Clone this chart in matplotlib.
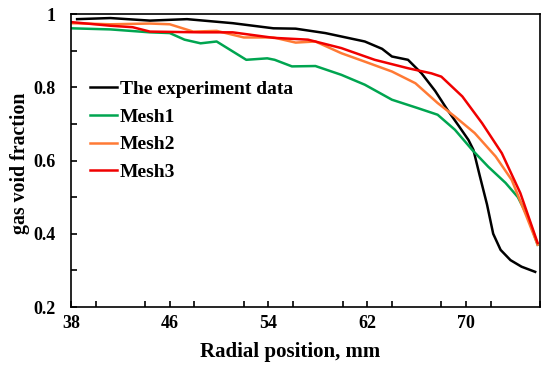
import matplotlib
matplotlib.use("Agg")
import matplotlib.pyplot as plt
from matplotlib.ticker import MultipleLocator

# Data
exp_x = [38.5, 41.2, 44.4, 47.4, 51.1, 54.4, 56.2, 58.6, 61.8, 63.2, 64.0, 65.3, 66.4, 67.5,
         68.5, 69.4, 70.2, 70.6, 71.1, 71.7, 72.2, 72.8, 73.6, 74.5, 75.6]
exp_y = [0.986, 0.989, 0.982, 0.986, 0.975, 0.961, 0.960, 0.948, 0.925, 0.905, 0.884, 0.875,
         0.838, 0.790, 0.738, 0.695, 0.656, 0.629, 0.560, 0.480, 0.400, 0.356, 0.328, 0.310, 0.296]

mesh1_x = [38.0, 41.2, 44.4, 46.0, 47.2, 48.5, 49.8, 51.0, 52.2, 53.9, 54.5, 55.9, 57.8, 59.9,
           61.8, 64.0, 66.1, 67.7, 69.1, 70.5, 71.8, 73.2, 74.2, 75.0, 75.8]
mesh1_y = [0.961, 0.958, 0.950, 0.948, 0.930, 0.920, 0.925, 0.900, 0.875, 0.879, 0.875, 0.857,
           0.858, 0.834, 0.807, 0.766, 0.743, 0.725, 0.684, 0.629, 0.583, 0.539, 0.500, 0.447, 0.370]

mesh2_x = [38.0, 41.2, 44.4, 46.0, 47.9, 49.8, 52.0, 54.4, 56.2, 57.8, 59.9, 61.8, 64.0, 65.9,
           67.7, 69.1, 70.7, 72.4, 73.7, 74.9, 75.8]
mesh2_y = [0.975, 0.972, 0.974, 0.972, 0.952, 0.954, 0.936, 0.936, 0.922, 0.925, 0.893, 0.870,
           0.843, 0.811, 0.757, 0.720, 0.675, 0.611, 0.547, 0.447, 0.370]

mesh3_x = [38.0, 41.2, 43.0, 44.4, 48.5, 51.1, 54.4, 57.2, 59.9, 62.6, 65.3, 67.2, 68.0, 69.7,
           71.3, 72.9, 74.4, 75.8]
mesh3_y = [0.978, 0.968, 0.964, 0.952, 0.950, 0.950, 0.935, 0.930, 0.907, 0.875, 0.852, 0.838,
           0.829, 0.775, 0.702, 0.620, 0.511, 0.375]

labels = ["The experiment data", "Mesh1", "Mesh2", "Mesh3"]
x_ticks = [38, 46, 54, 62, 70]
y_ticks = [0.2, 0.4, 0.6, 0.8, 1.0]
y_ticklabels = ["0.2", "0.4", "0.6", "0.8", "1"]

plt.rcParams['font.family'] = ['Liberation Serif', 'DejaVu Serif']
plt.rcParams['font.weight'] = 'bold'

fig = plt.figure(figsize=(5.5, 3.69), dpi=100)
ax = fig.add_axes([0.129, 0.168, 0.853, 0.794])

lw = 1.8
ax.plot(exp_x, exp_y, color='black', lw=lw, label=labels[0])
ax.plot(mesh1_x, mesh1_y, color='#00a550', lw=lw, label=labels[1])
ax.plot(mesh2_x, mesh2_y, color='#ff7a35', lw=lw, label=labels[2])
ax.plot(mesh3_x, mesh3_y, color='#f00000', lw=lw, label=labels[3])

ax.set_xlim(38, 76)
ax.set_ylim(0.2, 1.0)
ax.set_xticks(x_ticks)
ax.set_yticks(y_ticks)
ax.set_yticklabels(y_ticklabels)
ax.xaxis.set_minor_locator(MultipleLocator(4))
ax.yaxis.set_minor_locator(MultipleLocator(0.1))
ax.tick_params(which='both', direction='in', top=False, right=False, labelsize=13, width=1.2)
ax.tick_params(which='major', length=4)
ax.tick_params(which='minor', length=4)
ax.tick_params(axis='x', which='major', pad=6)
ax.tick_params(axis='y', which='major', pad=11)
for lab in ax.get_xticklabels() + ax.get_yticklabels():
    lab.set_fontweight('bold')
for s in ax.spines.values():
    s.set_linewidth(1.2)

ax.set_xlabel("Radial position, mm", fontsize=15, fontweight='bold', labelpad=5)
ax.xaxis.set_label_coords(0.468, -0.12)
ax.set_ylabel("gas void fraction", fontsize=14.3, fontweight='bold', labelpad=4)
ax.yaxis.set_label_coords(-0.088, 0.49)

leg = ax.legend(loc='upper left', bbox_to_anchor=(0.024, 0.80), frameon=False,
                prop={'size': 14, 'weight': 'bold'}, handlelength=1.4, handletextpad=0.15,
                labelspacing=0.52, borderaxespad=0)

fig.savefig("out.png", dpi=100)
